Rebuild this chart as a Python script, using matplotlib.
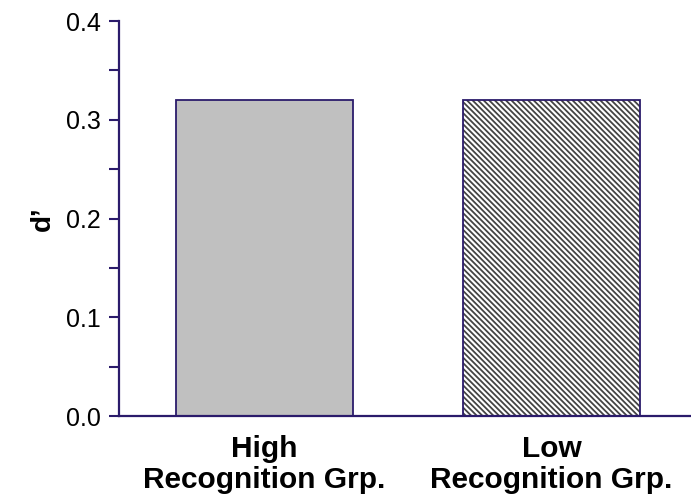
import matplotlib.pyplot as plt
from matplotlib.ticker import MultipleLocator

groups = ['High\nRecognition Grp.', 'Low\nRecognition Grp.']
dprime = [0.32, 0.32]
fills = ['#c0c0c0', 'white']
hatches = ['', '\\' * 6]

navy = '#2b1b6b'
plt.rcParams['font.family'] = ['Liberation Sans', 'DejaVu Sans']
plt.rcParams['hatch.linewidth'] = 1.3

fig = plt.figure(figsize=(6.91, 4.99), dpi=100)
ax = fig.add_axes([0.1722, 0.1663, 0.8278, 0.7916])

x = list(range(len(groups)))
# hatch drawn in dark grey, outline drawn separately in navy
ax.bar(x, dprime, width=0.617, color=fills, hatch=hatches, edgecolor='#444444', linewidth=0, zorder=2)
ax.bar(x, dprime, width=0.617, fill=False, edgecolor=navy, linewidth=1.3, zorder=3)

ax.set_xlim(-0.507, 1.486)
ax.set_ylim(0, 0.4)
ax.yaxis.set_major_locator(MultipleLocator(0.1))
ax.yaxis.set_minor_locator(MultipleLocator(0.05))
ax.yaxis.set_major_formatter(plt.FormatStrFormatter('%.1f'))

ax.set_xticks(x)
ax.set_xticklabels(groups, fontsize=21.5, fontweight='bold', linespacing=1.1)
ax.tick_params(axis='x', length=0, pad=14)
ax.tick_params(axis='y', which='both', direction='out', length=7, width=1.5, color=navy, labelsize=18, pad=6)

for side in ['top', 'right']:
    ax.spines[side].set_visible(False)
for side in ['left', 'bottom']:
    ax.spines[side].set_color(navy)
    ax.spines[side].set_linewidth(1.6)

ax.set_ylabel('d’', fontsize=20, fontweight='bold', labelpad=7)

fig.savefig('out.png', dpi=100)
